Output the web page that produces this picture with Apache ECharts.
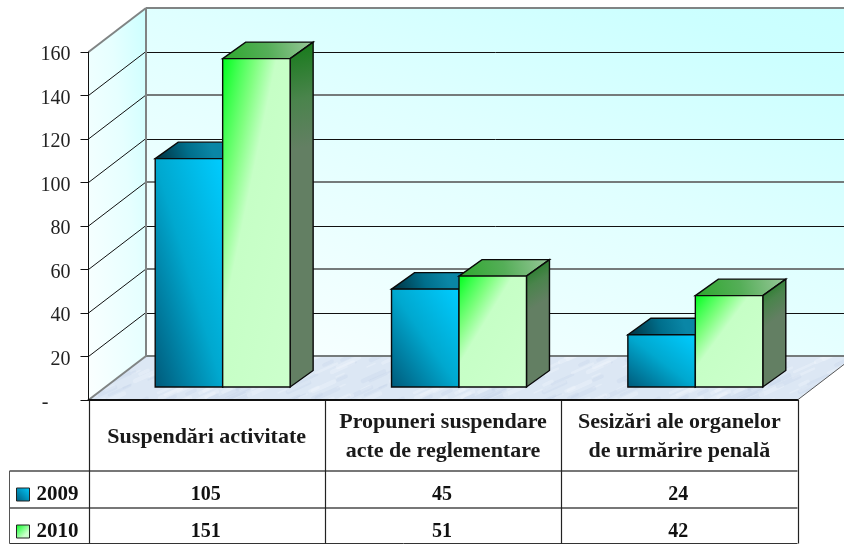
<!DOCTYPE html>
<html><head><meta charset="utf-8">
<style>html,body{margin:0;padding:0;background:#fff}#c{width:844px;height:544px}</style>
<script src="https://cdn.jsdelivr.net/npm/echarts@6/dist/echarts.min.js"></script>
</head><body><div id="c"></div>
<script>
const categories = ['Suspendări activitate', 'Propuneri suspendare\nacte de reglementare', 'Sesizări ale organelor\nde urmărire penală'];
const seriesNames = ['2009', '2010'];
const values2009 = [105, 45, 24];
const values2010 = [151, 51, 42];
const backLineTicks = [140, 120, 100, 80, 60, 40, 20, 0];
const wallTicks = [160, 140, 120, 100, 80, 60, 40, 20];

const FONT = '"Liberation Serif", serif';
const G = echarts.graphic.LinearGradient;
const chart = echarts.init(document.getElementById('c'), null, {renderer: 'canvas'});

const WD = [57.5, -44], BD = [23, -16.5], BO = [16, -13];
const poly = (pts, fill, stroke, lw) => ({type: 'polygon', shape: {points: pts}, style: {fill: fill, stroke: stroke || null, lineWidth: lw || 0, lineJoin: 'miter'}, silent: true});
const line = (x1, y1, x2, y2, c, w) => ({type: 'line', shape: {x1, y1, x2, y2}, style: {stroke: c, lineWidth: w, fill: null}, silent: true});

function floorPattern() {
  const W = 256, H = 128;
  const cv = document.createElement('canvas');
  cv.width = W; cv.height = H;
  const x = cv.getContext('2d');
  x.fillStyle = '#dce7f4'; x.fillRect(0, 0, W, H);
  x.lineCap = 'round';
  for (let i = 0; i < 260; i++) {
    const a = (i * 97 + (i * i) % 61) % W, b = (i * 59 + (i * i) % 37) % H, l = 8 + (i * 13) % 26;
    const pale = i % 5 < 3;
    x.strokeStyle = pale ? 'rgba(248,251,254,.28)' : 'rgba(190,208,232,.25)';
    x.lineWidth = 1.5 + (i % 4);
    for (const ox of [0, -W]) for (const oy of [0, H]) {
      x.beginPath(); x.moveTo(a + ox, b + oy); x.lineTo(a + ox + l, b + oy - l * 0.45); x.stroke();
    }
  }
  return cv;
}
const floorImg = floorPattern();

function renderBackground(params, api) {
  const r = params.coordSys;
  const L = r.x, R = r.x + r.width, B = r.y + r.height, T = r.y;
  const ch = [];
  ch.push(poly([[L, T], [L + WD[0], T + WD[1]], [L + WD[0], B + WD[1]], [L, B]],
    new G(L, B, L + 125, B - 14, [{offset: 0, color: '#fbffff'}, {offset: 0.5, color: '#e6ffff'}, {offset: 0.8, color: '#ccffff'}, {offset: 1, color: '#c8ffff'}], true)));
  const bx = L + WD[0], by = B + WD[1];
  ch.push(poly([[bx, T + WD[1]], [R + WD[0], T + WD[1]], [R + WD[0], by], [bx, by]],
    new G(bx, by, bx + 215, by - 559, [{offset: 0, color: '#fbffff'}, {offset: 0.55, color: '#dfffff'}, {offset: 0.85, color: '#ccffff'}, {offset: 1, color: '#c8ffff'}], true)));
  ch.push(poly([[L, B], [R, B], [R + WD[0], B + WD[1]], [L + WD[0], B + WD[1]]], {image: floorImg, repeat: 'repeat'}));
  wallTicks.forEach((v, i) => {
    const y = api.coord([0, v])[1];
    if (i > 0) ch.push(line(L, y, L + WD[0], y + WD[1], '#111', 1));
  });
  backLineTicks.forEach((v, i) => {
    const y = Math.round(api.coord([0, v])[1] + WD[1]);
    ch.push(i % 2 === 0
      ? line(L + WD[0], y + 0.5, R + WD[0], y + 0.5, '#111', 1)
      : line(L + WD[0], y, R + WD[0], y, '#757b7b', 2));
  });
  const yTop = api.coord([0, 160])[1];
  ch.push(line(L, yTop, L + WD[0], yTop + WD[1], '#808484', 2));
  ch.push(line(L + WD[0], yTop + WD[1], R + WD[0], yTop + WD[1], '#808484', 2));
  ch.push(line(L + WD[0], yTop + WD[1], L + WD[0], B + WD[1], '#808484', 2));
  ch.push(line(L, B, L + WD[0], B + WD[1], '#808484', 2));
  ch.push(line(R, B, R + WD[0], B + WD[1], '#555', 1));
  const bw = r.width / categories.length;
  const Y1 = B + 71, Y2 = B + 108, Y3 = 543.5;
  ch.push(line(9.5, Y1, R, Y1, '#777', 2));
  ch.push(line(9.5, Y2, R, Y2, '#777', 2));
  ch.push(line(9.5, Y3, R, Y3, '#333', 1));
  ch.push(line(9.5, Y1, 9.5, Y3, '#555', 1));
  for (let i = 0; i <= categories.length; i++) {
    const x = Math.round(L + bw * i) + 0.5;
    ch.push(line(x, B, x, Y3, '#222', 1.2));
  }
  return {type: 'group', children: ch};
}

// corner-to-corner gradient whose colour bands follow the other diagonal of the box
function antiDiag(x0, y0, w, h, fromTopLeft, stops) {
  const d2 = w * w + h * h;
  if (fromTopLeft) return new G(x0, y0, x0 + 2 * w * h * h / d2, y0 + 2 * w * w * h / d2, stops, true);
  return new G(x0, y0 + h, x0 + 2 * w * h * h / d2, y0 + h - 2 * w * w * h / d2, stops, true);
}

const barStyles = [
  {
    front: (x, y, w, h) => antiDiag(x, y, w, h, false, [{offset: 0, color: '#005a7a'}, {offset: 0.5, color: '#00a8cf'}, {offset: 1, color: '#00ccff'}]),
    top: new G(0, 1, 0.6, 0, [{offset: 0, color: '#002f3d'}, {offset: 0.6, color: '#006f8c'}, {offset: 1, color: '#0a86a6'}]),
    side: new G(0, 0, 1, 0, [{offset: 0, color: '#003d52'}, {offset: 1, color: '#2e7186'}])
  },
  {
    front: (x, y, w, h) => antiDiag(x, y, w, h, true, [{offset: 0, color: '#00ff1e'}, {offset: 0.12, color: '#40ff50'}, {offset: 0.25, color: '#80ff80'}, {offset: 0.4, color: '#c6ffc6'}, {offset: 1, color: '#ccffcc'}]),
    top: new G(0, 1, 1, 0, [{offset: 0, color: '#2da82d'}, {offset: 0.5, color: '#55ae58'}, {offset: 1, color: '#9ac89c'}]),
    side: new G(0, 0, 1, 0.3, [{offset: 0, color: '#137a17'}, {offset: 0.55, color: '#4a844c'}, {offset: 1, color: '#637f63'}])
  }
];

function makeBar(si, rowOffset) {
  return function (params, api) {
    const r = params.coordSys;
    const ci = api.value(0), v = api.value(1);
    const band = api.size([1, 0])[0];
    const w = band * 0.2855;
    const cx = api.coord([ci, 0])[0];
    const yb = api.coord([ci, 0])[1] + BO[1];
    const yt = api.coord([ci, v])[1] + BO[1];
    const x0 = cx + BO[0] + (si - 1) * w, x1 = x0 + w;
    const st = barStyles[si];
    const stroke = '#0a0a0a';
    const ch = [
      poly([[x0, yt], [x1, yt], [x1 + BD[0], yt + BD[1]], [x0 + BD[0], yt + BD[1]]], st.top, stroke, 1.4),
      poly([[x1, yt], [x1 + BD[0], yt + BD[1]], [x1 + BD[0], yb + BD[1]], [x1, yb]], st.side, stroke, 1.4),
      poly([[x0, yt], [x1, yt], [x1, yb], [x0, yb]], st.front(x0, yt, w, yb - yt), stroke, 1.4),
      {type: 'text', silent: true, x: cx - 1, y: r.y + r.height + rowOffset,
        style: {text: String(v), fill: '#111', font: 'bold 20px ' + FONT, align: 'center', verticalAlign: 'middle'}}
    ];
    return {type: 'group', children: ch};
  };
}

chart.setOption({
  animation: false,
  backgroundColor: '#fff',
  textStyle: {fontFamily: FONT},
  legend: {
    data: seriesNames, orient: 'vertical', left: 16, top: 484, padding: 0, itemWidth: 13, itemHeight: 13, itemGap: 16,
    icon: 'rect', selectedMode: false,
    itemStyle: {borderColor: '#222', borderWidth: 1},
    textStyle: {fontFamily: FONT, fontWeight: 'bold', fontSize: 21, color: '#111', lineHeight: 21, padding: [0, 0, 0, 2]}
  },
  grid: {left: 88.5, top: 52, width: 709, height: 348, containLabel: false},
  xAxis: {
    type: 'category', data: categories, z: 10,
    axisLine: {show: true, lineStyle: {color: '#111', width: 2}},
    axisTick: {show: false},
    axisLabel: {interval: 0, margin: 37, verticalAlign: 'middle', lineHeight: 29, fontFamily: FONT, fontWeight: 'bold', fontSize: 22, color: '#1a1a1a'}
  },
  yAxis: {
    type: 'value', min: 0, max: 160, interval: 20, z: 10,
    splitLine: {show: false},
    axisLine: {show: true, lineStyle: {color: '#111', width: 1}},
    axisTick: {show: true, length: 8, lineStyle: {color: '#111', width: 1}},
    axisLabel: {
      margin: 18, fontFamily: FONT, fontSize: 20, color: '#222', padding: [6, 0, 0, 0],
      formatter: (v) => v === 0 ? '{d|-}' : String(v),
      rich: {d: {padding: [0, 22, 0, 0], fontFamily: FONT, fontSize: 20, color: '#222'}}
    }
  },
  series: [
    {type: 'custom', name: 'bg', silent: true, data: [[0, 0]], encode: {x: 0, y: 1}, renderItem: renderBackground, z: 1},
    {type: 'custom', name: seriesNames[0], silent: true, z: 2, encode: {x: 0, y: 1},
      itemStyle: {color: new G(0, 1, 1, 0, [{offset: 0, color: '#005a7a'}, {offset: 1, color: '#00ccff'}])},
      data: values2009.map((v, i) => [i, v]), renderItem: makeBar(0, 95)},
    {type: 'custom', name: seriesNames[1], silent: true, z: 3, encode: {x: 0, y: 1},
      itemStyle: {color: new G(0, 0, 1, 1, [{offset: 0, color: '#00ff1e'}, {offset: 0.7, color: '#ccffcc'}])},
      data: values2010.map((v, i) => [i, v]), renderItem: makeBar(1, 132)}
  ]
});
</script></body></html>
